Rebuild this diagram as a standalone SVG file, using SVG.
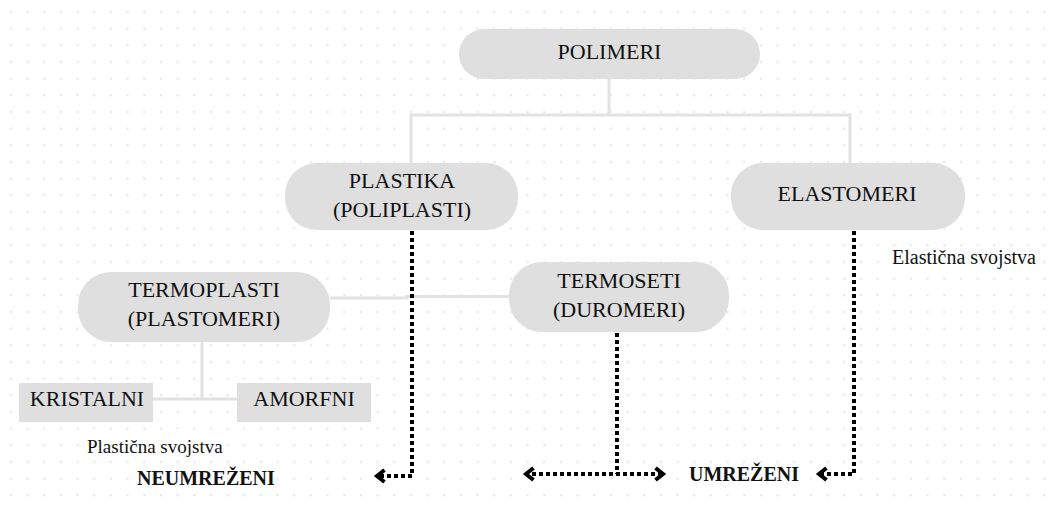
<svg xmlns="http://www.w3.org/2000/svg" width="1052" height="508" viewBox="0 0 1052 508">
  <style>
    .node { fill: #dfdfdf; }
    .t { font-family: "Liberation Serif", "Times New Roman", serif; font-size: 22px; fill: #111; text-anchor: middle; }
    .note { font-family: "Liberation Serif", "Times New Roman", serif; font-size: 19px; fill: #111; }
    .bold { font-family: "Liberation Serif", "Times New Roman", serif; font-size: 20px; font-weight: bold; fill: #111; }
    .conn { fill: none; stroke: #e2e2e2; stroke-width: 3; }
    .dot { fill: none; stroke: #000; stroke-width: 4; stroke-dasharray: 4 3; }
  </style>
  <defs>
    <pattern id="grid" x="0" y="0" width="16.6667" height="16.6667" patternUnits="userSpaceOnUse">
      <rect x="10" y="11" width="2" height="2" fill="#dfe2e8"/>
    </pattern>
    <marker id="chev" markerUnits="userSpaceOnUse" markerWidth="24" markerHeight="24" refX="0" refY="0" viewBox="-12 -12 24 24" orient="auto-start-reverse" overflow="visible">
      <path d="M-8.5,-6 L-1,0 L-8.5,6" fill="none" stroke="#000" stroke-width="4" stroke-dasharray="none" stroke-linejoin="miter"/>
    </marker>
  </defs>
  <rect width="1052" height="508" fill="#ffffff"/>
  <rect width="1052" height="508" fill="url(#grid)"/>

  <g id="connectors">
    <path class="conn" d="M609,79 V115"/>
    <path class="conn" d="M411,163 V115 H850 V163"/>
    <path class="conn" d="M330,298 H407 V296.5 H509"/>
    <path class="conn" d="M202,342 V399"/>
    <path class="conn" d="M153,399 H237"/>
    <path class="dot" d="M412,231 V476 H376" marker-end="url(#chev)"/>
    <path class="dot" d="M617,333 V474"/>
    <path class="dot" d="M525,474 H664" marker-start="url(#chev)" marker-end="url(#chev)"/>
    <path class="dot" d="M854,231 V474 H818" marker-end="url(#chev)"/>
  </g>

  <g id="polimeri">
    <rect class="node" x="459" y="29" width="301" height="50" rx="25"/>
    <text class="t" x="609.5" y="59">POLIMERI</text>
  </g>
  <g id="plastika">
    <rect class="node" x="285" y="163" width="233" height="67" rx="32"/>
    <text class="t" x="402" y="188">PLASTIKA</text>
    <text class="t" x="402" y="217">(POLIPLASTI)</text>
  </g>
  <g id="elastomeri">
    <rect class="node" x="731" y="163" width="234" height="67" rx="32"/>
    <text class="t" x="847" y="201">ELASTOMERI</text>
  </g>
  <g id="termoplasti">
    <rect class="node" x="78" y="272" width="252" height="70" rx="33"/>
    <text class="t" x="204" y="297">TERMOPLASTI</text>
    <text class="t" x="204" y="326">(PLASTOMERI)</text>
  </g>
  <g id="termoseti">
    <rect class="node" x="509" y="262" width="220" height="70" rx="33"/>
    <text class="t" x="619" y="288">TERMOSETI</text>
    <text class="t" x="619" y="317">(DUROMERI)</text>
  </g>
  <g id="kristalni">
    <rect class="node" x="19" y="383" width="134" height="39"/>
    <text class="t" x="87" y="406">KRISTALNI</text>
  </g>
  <g id="amorfni">
    <rect class="node" x="237" y="383" width="134" height="39"/>
    <text class="t" x="304" y="406">AMORFNI</text>
  </g>

  <g id="labels">
    <text class="note" x="87" y="453">Plastična svojstva</text>
    <text class="note" x="892" y="264" style="font-size:20px">Elastična svojstva</text>
    <text class="bold" x="137" y="485">NEUMREŽENI</text>
    <text class="bold" x="689" y="481">UMREŽENI</text>
  </g>
</svg>
